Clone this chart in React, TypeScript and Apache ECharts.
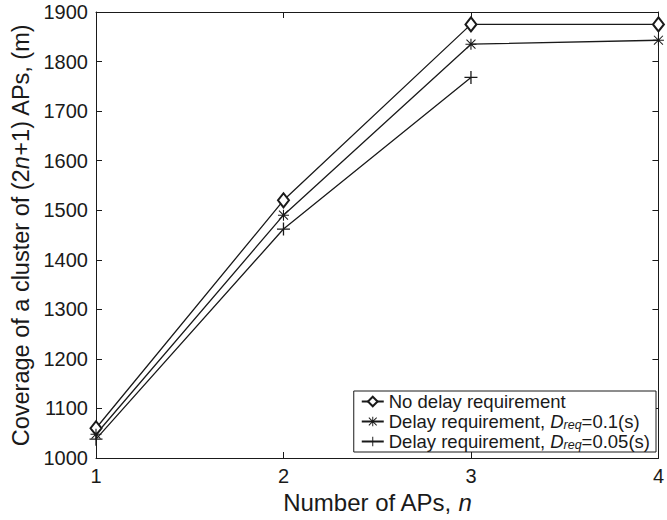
import React, { useEffect, useRef } from "react";
import * as echarts from "echarts";

const nValues = [1, 2, 3, 4];
const noDelay = [1060, 1520, 1875, 1875];
const delay01 = [1048, 1490, 1835, 1843];
const delay005 = [1038, 1462, 1768];
const yTicks = { min: 1000, max: 1900, interval: 100 };
const seriesNames = ["No delay requirement", "Delay requirement, Dreq=0.1(s)", "Delay requirement, Dreq=0.05(s)"];

const FONT = "'Liberation Sans', Arial, Helvetica, sans-serif";
const INK = "#1a1a1a";

const plusPath = "path://M5.4,0h1.2v12h-1.2z M0,5.4h12v1.2h-12z";
const starPath =
  "path://M5.4,0h1.2v12h-1.2z M0,5.4h12v1.2h-12z M1.5,0.7L11.3,10.5L10.5,11.3L0.7,1.5z M10.5,0.7L11.3,1.5L1.5,11.3L0.7,10.5z";

function pairs(ys: number[]) {
  return ys.map((y, i) => [nValues[i], y]);
}

export default function App() {
  const ref = useRef<HTMLDivElement>(null);
  useEffect(() => {
    if (!ref.current) return;
    const chart = echarts.init(ref.current, undefined, { renderer: "svg" });
    const lineStyle = { color: INK, width: 1.3 };
    const axisCommon = {
      type: "value" as const,
      axisLine: { show: true, onZero: false, lineStyle: { color: INK, width: 1 } },
      axisTick: { show: true, inside: true, length: 6, lineStyle: { color: INK } },
      splitLine: { show: false },
    };
    const titleStyle = (size: number) => ({
      color: INK,
      fontFamily: FONT,
      fontSize: size,
      rich: {
        a: { fontSize: size, fontFamily: FONT, color: INK },
        i: { fontSize: size, fontFamily: FONT, fontStyle: "italic", color: INK },
      },
    });
    chart.setOption({
      animation: false,
      backgroundColor: "#fff",
      grid: { left: 96, right: 4, top: 12, bottom: 62, containLabel: false },
      legend: {
        orient: "vertical",
        right: 11,
        bottom: 68,
        backgroundColor: "#fff",
        borderColor: INK,
        borderWidth: 1,
        borderRadius: 0,
        padding: [1, 6, 1, 7],
        itemGap: 1,
        itemWidth: 22,
        itemHeight: 12,
        data: seriesNames,
        formatter: (name: string) => {
          if (name.indexOf("Dreq") >= 0) {
            const parts = name.split("Dreq");
            return `{a|${parts[0]}}{i|D}{s|req}{a|${parts[1]}}`;
          }
          return `{a|${name}}`;
        },
        textStyle: {
          color: INK,
          fontFamily: FONT,
          fontSize: 18.5,
          rich: {
            a: { fontSize: 18.5, fontFamily: FONT, color: INK },
            i: { fontSize: 18.5, fontFamily: FONT, fontStyle: "italic", color: INK },
            s: { fontSize: 12.5, fontFamily: FONT, fontStyle: "italic", color: INK, verticalAlign: "bottom", padding: [6, 0, 0, 0] },
          },
        },
      },
      xAxis: [
        {
          ...axisCommon,
          min: 1,
          max: 4,
          interval: 1,
          name: "{a|Number of APs, }{i|n}",
          nameLocation: "middle",
          nameGap: 30,
          nameTextStyle: titleStyle(24),
          axisLabel: { color: INK, fontFamily: FONT, fontSize: 20, margin: 8 },
        },
        {
          ...axisCommon,
          position: "top",
          min: 1,
          max: 4,
          interval: 1,
          axisLabel: { show: false },
        },
      ],
      yAxis: [
        {
          ...axisCommon,
          min: yTicks.min,
          max: yTicks.max,
          interval: yTicks.interval,
          name: "{a|Coverage of a cluster of (2}{i|n}{a|+1) APs, (m)}",
          nameLocation: "middle",
          nameGap: 55,
          nameRotate: 90,
          nameTextStyle: titleStyle(23.5),
          axisLabel: {
            color: INK,
            fontFamily: FONT,
            fontSize: 20,
            margin: 8,
            formatter: (v: number) => String(v),
          },
        },
        {
          ...axisCommon,
          position: "right",
          min: yTicks.min,
          max: yTicks.max,
          interval: yTicks.interval,
          axisLabel: { show: false },
        },
      ],
      series: [
        {
          name: seriesNames[0],
          type: "line",
          data: pairs(noDelay),
          symbol: "emptyDiamond",
          symbolSize: [11, 14],
          showAllSymbol: true,
          lineStyle,
          itemStyle: { color: INK, borderColor: INK, borderWidth: 1.3 },
          z: 3,
        },
        {
          name: seriesNames[1],
          type: "line",
          data: pairs(delay01),
          symbol: starPath,
          symbolSize: 11,
          showAllSymbol: true,
          lineStyle,
          itemStyle: { color: INK, borderWidth: 0 },
          z: 3,
        },
        {
          name: seriesNames[2],
          type: "line",
          data: pairs(delay005),
          symbol: plusPath,
          symbolSize: 13,
          showAllSymbol: true,
          lineStyle,
          itemStyle: { color: INK, borderWidth: 0 },
          z: 3,
        },
      ],
    });
    return () => chart.dispose();
  }, []);
  return <div ref={ref} style={{ width: 667, height: 520, position: "absolute", left: 0, top: 0 }} />;
}
